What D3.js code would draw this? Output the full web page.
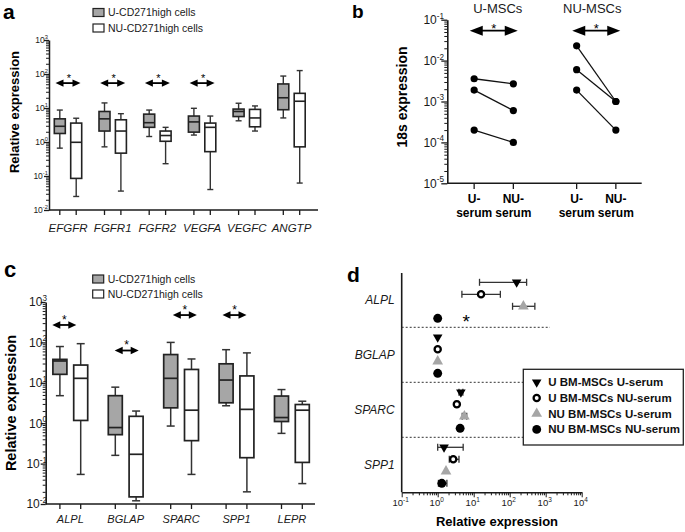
<!DOCTYPE html>
<html><head><meta charset="utf-8">
<script src="https://cdn.jsdelivr.net/npm/d3@7"></script>
<style>
body{margin:0;background:#fff}
svg{display:block;font-family:"Liberation Sans",Arial,Helvetica,sans-serif}
</style>
</head><body>
<svg id="fig" width="685" height="532"></svg>
<script>
// ================= DATA =================
// Panel a: [min, q1, median, q3, max]
const genesA = ["EFGFR","FGFR1","FGFR2","VEGFA","VEGFC","ANGTP"];
const aU  = [[0.66,1.78,2.9,4.8,8.7],[0.72,2.1,4.8,7.9,14.1],[1.45,2.7,3.7,6.6,8.7],
             [1.6,1.95,3.9,5.8,9.8],[4.2,5.6,7.9,9.3,13.8],[5.1,8.9,20,51,87]];
const aNU = [[0.025,0.085,0.98,3.6,5.0],[0.036,0.47,2.1,4.5,6.8],[0.23,1.05,1.55,2.1,2.7],
             [0.04,0.52,2.7,3.6,5.8],[2.1,2.8,5.1,9.1,11.5],[0.062,0.72,15.8,27,126]];
const aSig = ["EFGFR","FGFR1","FGFR2","VEGFA"];
const aSigLevel = [54,54,54,54];
const groupNames = ["U-CD271high cells","NU-CD271high cells"];

// Panel b
const bGroups = ["U-MSCs","NU-MSCs"];
const bSerum = ["U-serum","NU-serum"];
const bUMSC  = [[3.6e-3,2.7e-3],[1.9e-3,6.0e-4],[2.0e-4,1.0e-4]];
const bNUMSC = [[2.3e-2,1.0e-3],[6.0e-3,1.0e-3],[1.9e-3,2.0e-4]];
const bSigLevel = 0.054;

// Panel c: [min, q1, median, q3, max]
const genesC = ["ALPL","BGLAP","SPARC","SPP1","LEPR"];
const cU  = [[4.8,16.2,34.7,38,79],[0.16,0.52,0.78,4.8,7.8],[0.85,2.4,12.9,50,100],
             [2.7,3.2,11.7,29.5,66],[0.56,1.1,1.38,4.7,6.8]];
const cNU = [[0.054,1.17,12.9,27.5,93],[0.012,0.015,0.17,1.48,2.0],[0.054,0.37,2.1,21.4,38.9],
             [0.02,0.14,2.2,14.8,55],[0.032,0.107,2.1,2.9,3.5]];
const cSig = ["ALPL","BGLAP","SPARC","SPP1"];
const cSigLevel = [270,63,475,475];

// Panel d
const genesD = ["ALPL","BGLAP","SPARC","SPP1"];
const seriesD = ["U BM-MSCs U-serum","U BM-MSCs NU-serum","NU BM-MSCs U-serum","NU BM-MSCs NU-serum"];
const dMean = [[156,16,240,1],[1,1,1,1],[4.4,3.4,5.5,4.2],[1.5,2.7,1.7,1.3]];
const dLow  = [[14.5,4.7,120,1],[1,1,1,1],[3.9,3.0,4.8,4.2],[1.0,2.1,1.7,1.05]];
const dHigh = [[295,55,500,1],[1,1,1,1],[5.0,3.8,6.4,4.2],[5.1,3.9,1.7,1.8]];
const dSigValue = 6.2;  // ALPL star

// ================= HELPERS =================
const svg = d3.select("#fig");
const GRAY = "#a6a6a6", INK = "#1a1a1a";

function logVals(lo, hi){
  const major=[], minor=[];
  for(let e=lo;e<=hi;e++){
    major.push(+("1e"+e));
    if(e<hi) for(let k=2;k<=9;k++) minor.push(+(k+"e"+e));
  }
  return {major, minor};
}
function expLabel(sel, x, y, e, fs, anchor){
  const t = sel.append("text").attr("x",x).attr("y",y).attr("text-anchor",anchor)
    .attr("font-size",fs).attr("fill",INK);
  t.append("tspan").attr("dy",(0.36*fs)+"px").text("10");
  t.append("tspan").attr("dy",(-0.45*fs)+"px").attr("font-size",fs*0.68).text(e);
  return t;
}
function yLogAxis(g, y, x0, lo, hi, o){
  const {major, minor} = logVals(lo,hi);
  g.append("g").attr("transform",`translate(${x0},0)`).attr("color",INK)
    .call(d3.axisLeft(y).tickValues(minor).tickSize(o.minor).tickSizeOuter(0).tickFormat(""))
    .call(s=>s.select(".domain").remove())
    .call(s=>s.selectAll("line").attr("stroke-width",1));
  g.append("g").attr("transform",`translate(${x0},0)`).attr("color",INK)
    .call(d3.axisLeft(y).tickValues(major).tickSize(o.major).tickSizeOuter(0).tickFormat(""))
    .call(s=>s.selectAll("line").attr("stroke-width",1.3))
    .call(s=>s.select(".domain").attr("stroke-width",o.sw||1.6));
  major.forEach(v=>expLabel(g, o.labelX, y(v), Math.round(Math.log10(v)), o.fs, "end"));
}
function arrow(g, cx, cy, half, headL, headH, sw){
  g.append("line").attr("x1",cx-half+headL*0.5).attr("x2",cx+half-headL*0.5)
    .attr("y1",cy).attr("y2",cy).attr("stroke","#000").attr("stroke-width",sw);
  g.append("path").attr("fill","#000")
    .attr("d",`M${cx-half},${cy}L${cx-half+headL},${cy-headH}L${cx-half+headL},${cy+headH}Z`);
  g.append("path").attr("fill","#000")
    .attr("d",`M${cx+half},${cy}L${cx+half-headL},${cy-headH}L${cx+half-headL},${cy+headH}Z`);
}
function star(g, cx, cyCenter, fs){
  g.append("text").attr("x",cx).attr("y",cyCenter+0.58*fs).attr("text-anchor","middle")
    .attr("font-size",fs).attr("fill","#000").text("*");
}
function boxes(g, genes, xBand, inner, y, dataSets, fills, bw, capW, sw){
  dataSets.forEach((ds,j)=>{
    const key = j===0?"U":"NU";
    const sel = g.append("g").selectAll("g").data(genes).join("g")
      .attr("transform",(d)=>`translate(${xBand(d)+xBand.bandwidth()/2+inner(key)},0)`);
    sel.append("line").attr("x1",0).attr("x2",0)
      .attr("y1",(d,i)=>y(ds[i][0])).attr("y2",(d,i)=>y(ds[i][4]))
      .attr("stroke","#333").attr("stroke-width",sw);
    [0,4].forEach(k=>sel.append("line").attr("x1",-capW/2).attr("x2",capW/2)
      .attr("y1",(d,i)=>y(ds[i][k])).attr("y2",(d,i)=>y(ds[i][k]))
      .attr("stroke","#333").attr("stroke-width",sw));
    sel.append("rect").attr("x",-bw/2).attr("width",bw)
      .attr("y",(d,i)=>y(ds[i][3])).attr("height",(d,i)=>y(ds[i][1])-y(ds[i][3]))
      .attr("fill",fills[j]).attr("stroke","#222").attr("stroke-width",sw+0.2);
    sel.append("line").attr("x1",-bw/2).attr("x2",bw/2)
      .attr("y1",(d,i)=>y(ds[i][2])).attr("y2",(d,i)=>y(ds[i][2]))
      .attr("stroke","#222").attr("stroke-width",sw+0.2);
  });
}
function panelLetter(t,x,y,fs){
  svg.append("text").attr("x",x).attr("y",y).attr("font-size",fs).attr("font-weight","bold").text(t);
}
function boxLegend(g, x, y0, dy){
  groupNames.forEach((n,i)=>{
    g.append("rect").attr("x",x).attr("y",y0+i*dy-4).attr("width",11).attr("height",8)
      .attr("fill",i===0?GRAY:"#fff").attr("stroke","#222").attr("stroke-width",1.2);
    g.append("text").attr("x",x+15).attr("y",y0+i*dy+3.8).attr("font-size",10.5).attr("fill",INK).text(n);
  });
}

// ================= PANEL A =================
{
  const g = svg.append("g");
  const y = d3.scaleLog().domain([1e-2,1e3]).range([210,40]);
  const x = d3.scaleBand().domain(genesA).range([45.65,313.85]);
  const inner = d3.scalePoint().domain(["U","NU"]).range([-8.2,8.2]);
  yLogAxis(g, y, 49, -2, 3, {major:5, minor:3, labelX:48, fs:8.5, sw:1.5});
  g.append("line").attr("x1",49).attr("x2",318).attr("y1",210).attr("y2",210).attr("stroke",INK).attr("stroke-width",1.5);
  genesA.forEach(gn=>["U","NU"].forEach(k=>{
    const cx = x(gn)+x.bandwidth()/2+inner(k);
    g.append("line").attr("x1",cx).attr("x2",cx).attr("y1",210).attr("y2",215).attr("stroke",INK).attr("stroke-width",1.3);
  }));
  g.append("g").attr("transform","translate(0,210)")
    .call(d3.axisBottom(x).tickSize(0).tickPadding(14))
    .call(s=>s.select(".domain").remove())
    .call(s=>s.selectAll("text").attr("font-size",11.5).attr("font-style","italic")
      .attr("font-family","Liberation Sans, Arial, sans-serif").attr("fill",INK));
  boxes(g, genesA, x, inner, y, [aU,aNU], [GRAY,"#fff"], 11, 6, 1.4);
  aSig.forEach((gn,i)=>{
    const cx = x(gn)+x.bandwidth()/2, cy = y(aSigLevel[i]);
    arrow(g, cx, cy, 12.5, 8, 3.6, 1.8);
    star(g, cx+1, cy-7.5, 11);
  });
  g.append("text").attr("transform","translate(19,112) rotate(-90)").attr("text-anchor","middle")
    .attr("font-size",13).attr("font-weight","bold").attr("fill","#000").text("Relative expression");
  boxLegend(g, 93, 12.5, 15.5);
  panelLetter("a",3,19,21);
}

// ================= PANEL B =================
{
  const g = svg.append("g");
  const y = d3.scaleLog().domain([1e-5,1e-1]).range([183.3,19.7]);
  const x = d3.scaleBand().domain(bGroups).range([442.5,647.5]);
  const inner = d3.scalePoint().domain(bSerum).range([-19.6,19.6]);
  yLogAxis(g, y, 447.3, -5, -1, {major:6, minor:3, labelX:444, fs:12, sw:1.6});
  g.append("line").attr("x1",447.3).attr("x2",641.7).attr("y1",183.3).attr("y2",183.3).attr("stroke",INK).attr("stroke-width",1.6);
  bGroups.forEach(gr=>{
    bSerum.forEach(s=>{
      const cx = x(gr)+x.bandwidth()/2+inner(s);
      g.append("line").attr("x1",cx).attr("x2",cx).attr("y1",183.3).attr("y2",189).attr("stroke",INK).attr("stroke-width",1.3);
      const parts = s.split("-");
      g.append("text").attr("x",cx).attr("y",203).attr("text-anchor","middle").attr("font-size",12)
        .attr("font-weight","bold").text(parts[0]+"-");
      g.append("text").attr("x",cx).attr("y",216.5).attr("text-anchor","middle").attr("font-size",12)
        .attr("font-weight","bold").text(parts[1]);
    });
    const cx = x(gr)+x.bandwidth()/2;
    g.append("text").attr("x",cx+(gr==="U-MSCs"?4:-4)).attr("y",13).attr("text-anchor","middle")
      .attr("font-size",13).attr("fill",INK).text(gr);
    arrow(g, cx, y(bSigLevel), 24, 13, 5, 1.8);
    star(g, cx, y(bSigLevel)-5.5, 13);
  });
  [bUMSC,bNUMSC].forEach((ds,gi)=>{
    const gr = bGroups[gi];
    const x0 = x(gr)+x.bandwidth()/2+inner(bSerum[0]);
    const x1 = x(gr)+x.bandwidth()/2+inner(bSerum[1]);
    ds.forEach(p=>{
      g.append("line").attr("x1",x0).attr("x2",x1).attr("y1",y(p[0])).attr("y2",y(p[1]))
        .attr("stroke","#111").attr("stroke-width",1.3);
      g.append("circle").attr("cx",x0).attr("cy",y(p[0])).attr("r",3.6).attr("fill","#000");
      g.append("circle").attr("cx",x1).attr("cy",y(p[1])).attr("r",3.6).attr("fill","#000");
    });
  });
  g.append("text").attr("transform","translate(407,97) rotate(-90)").attr("text-anchor","middle")
    .attr("font-size",14).attr("font-weight","bold").attr("fill","#000").text("18s expression");
  panelLetter("b",352,18,19);
}

// ================= PANEL C =================
{
  const g = svg.append("g");
  const y = d3.scaleLog().domain([1e-2,1e3]).range([504,302]);
  const x = d3.scaleBand().domain(genesC).range([42.6,319.6]);
  const inner = d3.scalePoint().domain(["U","NU"]).range([-10.4,10.4]);
  yLogAxis(g, y, 45.7, -2, 3, {major:5, minor:3, labelX:47, fs:12, sw:1.6});
  g.append("line").attr("x1",45.7).attr("x2",315).attr("y1",504).attr("y2",504).attr("stroke",INK).attr("stroke-width",1.6);
  genesC.forEach(gn=>["U","NU"].forEach(k=>{
    const cx = x(gn)+x.bandwidth()/2+inner(k);
    g.append("line").attr("x1",cx).attr("x2",cx).attr("y1",504).attr("y2",509).attr("stroke",INK).attr("stroke-width",1.3);
  }));
  g.append("g").attr("transform","translate(0,504)")
    .call(d3.axisBottom(x).tickSize(0).tickPadding(11))
    .call(s=>s.select(".domain").remove())
    .call(s=>s.selectAll("text").attr("font-size",11).attr("font-style","italic")
      .attr("font-family","Liberation Sans, Arial, sans-serif").attr("fill",INK));
  boxes(g, genesC, x, inner, y, [cU,cNU], [GRAY,"#fff"], 14, 8, 1.5);
  const shift = {ALPL:-6, BGLAP:1, SPARC:3.7, SPP1:-2};
  cSig.forEach((gn,i)=>{
    const cx = x(gn)+x.bandwidth()/2+shift[gn], cy = y(cSigLevel[i]);
    arrow(g, cx, cy, 12, 8, 3.8, 1.8);
    star(g, cx, cy-8.3, 12);
  });
  g.append("text").attr("transform","translate(16,403) rotate(-90)").attr("text-anchor","middle")
    .attr("font-size",14.5).attr("font-weight","bold").attr("fill","#000").text("Relative expression");
  boxLegend(g, 92.7, 279, 15);
  panelLetter("c",4,277,22);
}

// ================= PANEL D =================
{
  const g = svg.append("g");
  const x = d3.scaleLog().domain([0.1,1e4]).range([401.7,581.7]);
  const y = d3.scaleBand().domain(genesD).range([272.3,492.3]);
  const inner = d3.scalePoint().domain(seriesD).range([-17.5,18.5]);
  const {major, minor} = logVals(-1,4);
  g.append("g").attr("transform","translate(0,492.3)").attr("color",INK)
    .call(d3.axisBottom(x).tickValues(minor).tickSize(3).tickSizeOuter(0).tickFormat(""))
    .call(s=>s.select(".domain").remove());
  g.append("g").attr("transform","translate(0,492.3)").attr("color",INK)
    .call(d3.axisBottom(x).tickValues(major).tickSize(5).tickSizeOuter(0).tickFormat(""))
    .call(s=>s.select(".domain").attr("stroke-width",1.6));
  major.forEach(v=>expLabel(g, x(v)-1, 503, Math.round(Math.log10(v)), 9.5, "middle"));
  g.append("line").attr("x1",401.7).attr("x2",401.7).attr("y1",273).attr("y2",492.3).attr("stroke",INK).attr("stroke-width",1.6);
  g.append("g").attr("transform","translate(401.7,0)")
    .call(d3.axisLeft(y).tickSize(0).tickPadding(7))
    .call(s=>s.select(".domain").remove())
    .call(s=>s.selectAll("text").attr("font-size",12).attr("font-style","italic")
      .attr("font-family","Liberation Sans, Arial, sans-serif").attr("fill",INK));
  genesD.slice(1).forEach(gn=>{
    g.append("line").attr("x1",401.7).attr("x2",550).attr("y1",y(gn)).attr("y2",y(gn))
      .attr("stroke","#333").attr("stroke-width",1).attr("stroke-dasharray","2,2");
  });
  const sym = [
    {p:d3.symbol(d3.symbolTriangle,40)(), rot:180, fill:"#000", stroke:"none", sw:0},
    {p:d3.symbol(d3.symbolCircle,30)(), rot:0, fill:"#fff", stroke:"#000", sw:2.3},
    {p:d3.symbol(d3.symbolTriangle,50)(), rot:0, fill:GRAY, stroke:"none", sw:0},
    {p:d3.symbol(d3.symbolCircle,62)(), rot:0, fill:"#000", stroke:"none", sw:0}
  ];
  genesD.forEach((gn,gi)=>{
    seriesD.forEach((s,si)=>{
      const cy = y(gn)+y.bandwidth()/2+inner(s);
      const lo = dLow[gi][si], hi = dHigh[gi][si];
      if(hi>lo){
        g.append("line").attr("x1",x(lo)).attr("x2",x(hi)).attr("y1",cy).attr("y2",cy).attr("stroke","#333").attr("stroke-width",1.3);
        [lo,hi].forEach(v=>g.append("line").attr("x1",x(v)).attr("x2",x(v)).attr("y1",cy-3.5).attr("y2",cy+3.5).attr("stroke","#333").attr("stroke-width",1.3));
      }
      const m = sym[si];
      g.append("path").attr("d",m.p).attr("transform",`translate(${x(dMean[gi][si])},${cy}) rotate(${m.rot})`)
        .attr("fill",m.fill).attr("stroke",m.stroke).attr("stroke-width",m.sw);
    });
  });
  // significance star for ALPL
  star(g, x(dSigValue), y("ALPL")+y.bandwidth()/2+inner(seriesD[3])-1, 19);
  g.append("text").attr("x",497).attr("y",526).attr("text-anchor","middle").attr("font-size",13)
    .attr("font-weight","bold").attr("fill","#000").text("Relative expression");
  // legend
  const lg = g.append("g");
  lg.append("rect").attr("x",523.3).attr("y",369.3).attr("width",160).attr("height",75.7)
    .attr("fill","#fff").attr("stroke","#222").attr("stroke-width",1.3);
  seriesD.forEach((s,i)=>{
    const cy = 382.3+i*15.7;
    const m = sym[i];
    lg.append("path").attr("d",m.p).attr("transform",`translate(536.7,${cy}) rotate(${m.rot})`)
      .attr("fill",m.fill).attr("stroke",m.stroke).attr("stroke-width",m.sw);
    lg.append("text").attr("x",548.3).attr("y",cy+4).attr("font-size",11.5).attr("font-weight","bold")
      .attr("fill","#111").text(s);
  });
  panelLetter("d",347,282,21);
}
</script>
</body></html>
